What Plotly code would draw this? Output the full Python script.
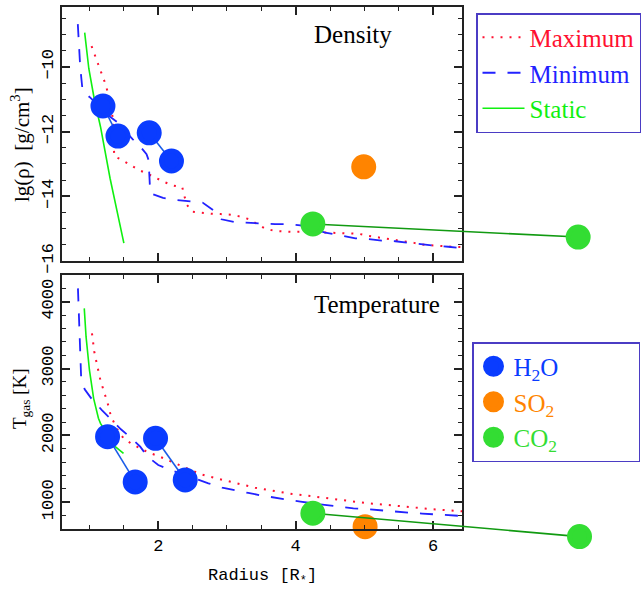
import plotly.graph_objects as go

# ---------------- data ----------------
# Density panel (lg rho [g/cm^3])
max_r = [1.03, 1.08, 1.12, 1.17, 1.22, 1.26, 1.30, 1.34, 1.36, 1.49, 1.60, 1.72, 1.85, 1.97, 2.09, 2.22, 2.35,
         2.38, 2.42, 2.50, 2.64, 2.78, 2.91, 3.05, 3.18, 3.31, 3.43, 3.55, 3.69, 3.82, 3.96, 4.09, 4.50,
         4.65, 4.78, 4.92, 5.05, 5.18, 5.32, 5.46, 5.59, 5.72, 5.87, 6.00, 6.14, 6.27, 6.42]
max_rho = [-9.36, -9.64, -9.88, -10.19, -10.46, -10.74, -11.10, -11.60, -12.76, -12.90, -13.03, -13.19, -13.31,
           -13.44, -13.56, -13.67, -13.72, -13.99, -14.27, -14.48, -14.52, -14.54, -14.55, -14.57, -14.62,
           -14.70, -14.84, -14.99, -15.07, -15.09, -15.10, -15.09, -15.12, -15.13, -15.15, -15.16, -15.22,
           -15.26, -15.31, -15.36, -15.41, -15.44, -15.50, -15.53, -15.54, -15.56, -15.57]
min_r = [0.83, 0.865, 0.90, 1.00, 1.30, 1.40, 1.63, 1.70, 1.83, 1.86, 1.884, 2.07, 2.25, 2.47, 2.65, 2.80, 2.92,
         3.12, 3.31, 3.51, 3.70, 3.90, 4.07, 4.43, 4.67, 4.87, 5.06, 5.25, 5.45, 5.64, 5.84, 6.03, 6.22, 6.42]
min_rho = [-8.68, -10.0, -10.75, -10.93, -11.54, -11.70, -12.24, -12.36, -12.70, -12.88, -13.91, -14.05, -14.11,
           -14.15, -14.20, -14.43, -14.71, -14.80, -14.82, -14.85, -14.86, -14.86, -14.90, -15.12, -15.22,
           -15.30, -15.32, -15.37, -15.39, -15.44, -15.48, -15.53, -15.56, -15.60]
stat_r = [0.93, 0.99, 1.07, 1.16, 1.30, 1.50]
stat_rho = [-8.94, -10.05, -11.00, -11.85, -13.45, -15.45]

h2o_r_d = [1.196, 1.414, 1.869, 2.193]
h2o_rho = [-11.21, -12.14, -12.04, -12.91]
so2_r_d = [4.99]
so2_rho = [-13.09]
co2_r_d = [4.25, 8.11]
co2_rho = [-14.855, -15.26]

# Temperature panel (T_gas [K])
max_rT = [1.036, 1.05, 1.07, 1.098, 1.122, 1.156, 1.196, 1.24, 1.278, 1.31, 1.40, 1.495, 1.617, 1.738, 1.86,
          1.99, 2.116, 2.243, 2.40, 2.61, 2.746, 2.88, 3.014, 3.145, 3.276, 3.41, 3.54, 3.68, 3.81, 3.95,
          4.09, 4.23, 4.37, 4.50, 4.63, 4.77, 4.90, 5.04, 5.18, 5.32, 5.45, 5.58, 5.72, 5.86, 6.00, 6.14,
          6.27, 6.42]
max_T = [3527, 3387, 3252, 3113, 2979, 2839, 2705, 2570, 2435, 2291, 2100, 1957, 1872, 1808, 1742, 1697, 1643,
         1588, 1510, 1423, 1383, 1348, 1318, 1284, 1254, 1218, 1194, 1169, 1144, 1124, 1109, 1090, 1069,
         1050, 1030, 1015, 1000, 985, 975, 960, 945, 935, 920, 905, 895, 885, 875, 865]
min_rT = [0.832, 0.845, 0.85, 0.855, 0.865, 0.876, 0.878, 0.93, 1.036, 1.18, 1.30, 1.457, 1.593, 1.738, 1.845,
          2.00, 2.175, 2.45, 2.73, 2.93, 3.12, 3.31, 3.51, 3.69, 3.90, 4.07, 4.24, 4.43, 4.55, 4.67, 4.84,
          5.06, 5.25, 5.45, 5.64, 5.84, 6.03, 6.22, 6.42]
min_T = [4200, 3876, 3677, 3477, 3278, 3079, 2878, 2690, 2540, 2380, 2256, 2092, 1972, 1832, 1682, 1558, 1483,
         1380, 1284, 1218, 1184, 1140, 1100, 1068, 1035, 1009, 985, 960, 945, 925, 910, 895, 875, 860, 845,
         830, 820, 805, 795]
stat_rT = [0.924, 0.95, 0.999, 1.06, 1.13, 1.16, 1.375, 1.495]
stat_T = [3901, 3477, 2979, 2555, 2256, 2181, 1832, 1733]

h2o_r_t = [1.263, 1.665, 1.961, 2.393]
h2o_T = [1981, 1304, 1957, 1334]
so2_r_t = [5.01]
so2_T = [635]
co2_r_t = [4.25, 8.13]
co2_T = [836, 486]

x_range = [0.6, 6.42]
rho_range = [-16.0, -8.15]
T_range = [600, 4400]

# ---------------- layout geometry (pixels) ----------------
W, H = 644, 590
ML, MR, MT, MB = 62, 0, 7, 40
PW = W - ML - MR           # 582
PH = H - MT - MB           # 543
AX_L, AX_R = 62, 462
TOP_T, TOP_B = 7, 261
BOT_T, BOT_B = 275, 529


def px_x(p):
    return (p - ML) / PW


def px_y(p):
    return (H - MB - p) / PH


xdom = [px_x(AX_L), px_x(AX_R)]
ydom_top = [px_y(TOP_B), px_y(TOP_T)]
ydom_bot = [px_y(BOT_B), px_y(BOT_T)]

# extended overlay axes with identical scale (so CO2 can reach beyond the frame)
x_per_px = (x_range[1] - x_range[0]) / (AX_R - AX_L)
x3_range = [x_range[0], x_range[0] + x_per_px * PW]
T_per_px = (T_range[1] - T_range[0]) / (BOT_B - BOT_T)
y4_range = [T_range[1] - T_per_px * (H - MB - BOT_T), T_range[1]]

RED = '#ff1030'
BLUE = '#2222ff'
GREEN = '#10f010'
H2O_C = '#0a3cff'
SO2_C = '#ff8400'
CO2_C = '#33dd33'
SERIF = 'Liberation Serif'


def lname(txt, col, pad):
    return (f'<span style="color:{col};font-family:\'Liberation Serif\',serif">{txt}</span>'
            + '&nbsp;' * pad)


fig = go.Figure()

# Density curves
fig.add_trace(go.Scatter(x=max_r, y=max_rho, mode='lines', xaxis='x', yaxis='y',
                         line=dict(color=RED, width=2, dash='2px,7px'),
                         name=lname('Maximum', RED, 0), legend='legend', showlegend=True))
fig.add_trace(go.Scatter(x=min_r, y=min_rho, mode='lines', xaxis='x', yaxis='y',
                         line=dict(color=BLUE, width=1.8, dash='13px,12px'),
                         name=lname('Minimum', BLUE, 0), legend='legend', showlegend=True))
fig.add_trace(go.Scatter(x=stat_r, y=stat_rho, mode='lines', xaxis='x', yaxis='y',
                         line=dict(color=GREEN, width=1.6),
                         name=lname('Static', GREEN, 0), legend='legend', showlegend=True))
# Temperature curves
fig.add_trace(go.Scatter(x=max_rT, y=max_T, mode='lines', xaxis='x2', yaxis='y2',
                         line=dict(color=RED, width=2, dash='2px,7px'), showlegend=False))
fig.add_trace(go.Scatter(x=min_rT, y=min_T, mode='lines', xaxis='x2', yaxis='y2',
                         line=dict(color=BLUE, width=1.8, dash='13px,12px'), showlegend=False))
fig.add_trace(go.Scatter(x=stat_rT, y=stat_T, mode='lines', xaxis='x2', yaxis='y2',
                         line=dict(color=GREEN, width=1.6), showlegend=False))

# connecting lines
for i in (0, 2):
    fig.add_trace(go.Scatter(x=h2o_r_d[i:i + 2], y=h2o_rho[i:i + 2], mode='lines', xaxis='x', yaxis='y',
                             line=dict(color='#1a5ce8', width=1.6), showlegend=False))
    fig.add_trace(go.Scatter(x=h2o_r_t[i:i + 2], y=h2o_T[i:i + 2], mode='lines', xaxis='x2', yaxis='y2',
                             line=dict(color='#1a5ce8', width=1.6), showlegend=False))
fig.add_trace(go.Scatter(x=co2_r_d, y=co2_rho, mode='lines', xaxis='x3', yaxis='y',
                         line=dict(color='#119a11', width=1.6), showlegend=False))
fig.add_trace(go.Scatter(x=co2_r_t, y=co2_T, mode='lines', xaxis='x3', yaxis='y4',
                         line=dict(color='#119a11', width=1.6), showlegend=False))

MK = 20
MLW = 5


def mk(c):
    return dict(color=c, size=MK, line=dict(color=c, width=MLW))


# markers (density)
fig.add_trace(go.Scatter(x=h2o_r_d, y=h2o_rho, mode='markers', xaxis='x', yaxis='y', marker=mk(H2O_C),
                         cliponaxis=False, showlegend=False))
fig.add_trace(go.Scatter(x=so2_r_d, y=so2_rho, mode='markers', xaxis='x', yaxis='y', marker=mk(SO2_C),
                         cliponaxis=False, showlegend=False))
fig.add_trace(go.Scatter(x=co2_r_d, y=co2_rho, mode='markers', xaxis='x3', yaxis='y', marker=mk(CO2_C),
                         cliponaxis=False, showlegend=False))
# markers (temperature) -> legend 2
fig.add_trace(go.Scatter(x=h2o_r_t, y=h2o_T, mode='markers', xaxis='x2', yaxis='y2', marker=mk(H2O_C),
                         cliponaxis=False, legend='legend2', showlegend=True,
                         name=lname('H<sub>2</sub>O', H2O_C, 12)))
fig.add_trace(go.Scatter(x=so2_r_t, y=so2_T, mode='markers', xaxis='x2', yaxis='y2', marker=mk(SO2_C),
                         cliponaxis=False, legend='legend2', showlegend=True,
                         name=lname('SO<sub>2</sub>', SO2_C, 12)))
fig.add_trace(go.Scatter(x=co2_r_t, y=co2_T, mode='markers', xaxis='x3', yaxis='y4', marker=mk(CO2_C),
                         cliponaxis=False, legend='legend2', showlegend=True,
                         name=lname('CO<sub>2</sub>', CO2_C, 12)))

TICKFONT = dict(family='Liberation Mono', size=17, color='black')


def xax(dom, anchor, labels):
    return dict(domain=dom, anchor=anchor, range=x_range, showgrid=False, zeroline=False,
                showline=True, linecolor='#222', linewidth=1.5, mirror='ticks',
                ticks='inside', ticklen=8, tickwidth=1.5, tickcolor='#222', tick0=0, dtick=2,
                minor=dict(dtick=0.5, tick0=0, ticks='inside', ticklen=4, tickwidth=1.2, tickcolor='#222'),
                showticklabels=labels, tickfont=TICKFONT)


def yax(dom, anchor, rng, dt, mdt):
    return dict(domain=dom, anchor=anchor, range=rng, showgrid=False, zeroline=False,
                showline=True, linecolor='#222', linewidth=1.5, mirror='ticks',
                ticks='inside', ticklen=8, tickwidth=1.5, tickcolor='#222', tick0=0, dtick=dt,
                minor=dict(dtick=mdt, tick0=0, ticks='inside', ticklen=4, tickwidth=1.2, tickcolor='#222'),
                tickangle=-90, tickfont=TICKFONT)


fig.update_layout(
    width=W, height=H,
    margin=dict(l=ML, r=MR, t=MT, b=MB, pad=0),
    paper_bgcolor='white', plot_bgcolor='rgba(0,0,0,0)',
    xaxis=xax(xdom, 'y', False),
    yaxis=yax(ydom_top, 'x', rho_range, 2, 0.5),
    xaxis2=xax(xdom, 'y2', True),
    yaxis2=yax(ydom_bot, 'x2', T_range, 1000, 200),
    xaxis3=dict(domain=[0, 1], anchor='y', range=x3_range, visible=False, showgrid=False, zeroline=False),
    yaxis4=dict(domain=[0, ydom_bot[1]], anchor='x3', range=y4_range, visible=False, showgrid=False,
                zeroline=False),
    legend=dict(x=px_x(476), y=px_y(13), xanchor='left', yanchor='top', bgcolor='white',
                bordercolor='#4b3cc4', borderwidth=1.5, font=dict(family=SERIF, size=25),
                tracegroupgap=0, itemwidth=42),
    legend2=dict(x=px_x(472), y=px_y(342), xanchor='left', yanchor='top', bgcolor='white',
                 bordercolor='#4b3cc4', borderwidth=1.5, font=dict(family=SERIF, size=25),
                 tracegroupgap=0, itemwidth=30),
    annotations=[
        dict(text='Density', xref='x domain', yref='y domain', x=(312 - AX_L) / (AX_R - AX_L),
             y=(TOP_B - 34) / (TOP_B - TOP_T), xanchor='left', yanchor='middle', showarrow=False,
             font=dict(family=SERIF, size=25, color='black')),
        dict(text='Temperature', xref='x2 domain', yref='y2 domain', x=(312 - AX_L) / (AX_R - AX_L),
             y=(BOT_B - 304) / (BOT_B - BOT_T), xanchor='left', yanchor='middle', showarrow=False,
             font=dict(family=SERIF, size=25, color='black')),
        dict(text='lg(ρ)  [g/cm<sup>3</sup>]', xref='paper', yref='paper', x=px_x(20), y=px_y(145),
             xanchor='center', yanchor='middle', textangle=-90, showarrow=False,
             font=dict(family=SERIF, size=21, color='black')),
        dict(text='T<sub>gas</sub> [K]', xref='paper', yref='paper', x=px_x(21), y=px_y(399),
             xanchor='center', yanchor='middle', textangle=-90, showarrow=False,
             font=dict(family=SERIF, size=19, color='black')),
        dict(text='Radius [R<sub>*</sub>]', xref='paper', yref='paper', x=px_x(262), y=px_y(577),
             xanchor='center', yanchor='middle', showarrow=False,
             font=dict(family='Liberation Mono', size=17, color='black')),
    ],
)

fig.write_html('out.html')
